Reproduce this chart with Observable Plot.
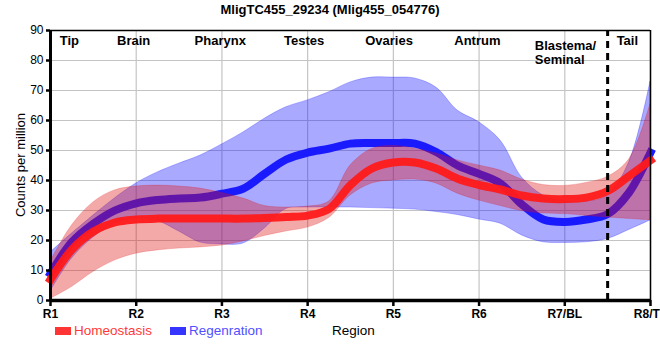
<!DOCTYPE html>
<html>
<head>
<meta charset="utf-8">
<script src="https://cdn.jsdelivr.net/npm/d3@7"></script>
<script src="https://cdn.jsdelivr.net/npm/@observablehq/plot@0.6"></script>
<style>
  html, body { margin: 0; padding: 0; background: #fff; }
  #wrap { position: relative; width: 660px; height: 360px; overflow: hidden; font-family: "Liberation Sans", Arial, sans-serif; }
  #title { position: absolute; left: 0; width: 660px; top: 2px; text-align: center; font-weight: bold; font-size: 13px; color: #000; }
  #ylab { position: absolute; left: 20px; top: 165px; transform: translate(-50%, -50%) rotate(-90deg); white-space: nowrap; font-size: 13px; color: #000; }
  .leg { position: absolute; top: 322px; font-size: 13.5px; line-height: 17px; }
  .sw { position: absolute; width: 16px; height: 8px; }
</style>
</head>
<body>
<div id="wrap">
  <div id="chart"></div>
  <div id="title">MligTC455_29234 (Mlig455_054776)</div>
  <div id="ylab">Counts per million</div>
  <div class="sw" style="left:55px; top:327px; background:#ff3535;"></div>
  <div class="leg" style="left:74px; color:#ff3a3a;">Homeostasis</div>
  <div class="sw" style="left:170px; top:327px; background:#3535ff;"></div>
  <div class="leg" style="left:189px; color:#5050ff;">Regenration</div>
  <div class="leg" style="left:332px; color:#000;">Region</div>
</div>
<script>
// ---- data ----
const xPos = [1, 1.25, 1.5, 1.75, 2, 2.25, 2.5, 2.75, 3, 3.25, 3.5, 3.75, 4, 4.25, 4.5, 4.75, 5, 5.25, 5.5, 5.75, 6, 6.25, 6.5, 6.75, 7, 7.25, 7.5, 7.75, 8];

const homeMean = [7, 17, 23, 26, 27, 27.3, 27.3, 27.3, 27.3, 27.3, 27.5, 27.8, 28.3, 30.5, 38.5, 44, 46, 46, 44, 40.6, 38.5, 37, 35, 34, 33.8, 34.3, 36.5, 41.5, 46.7];
const homeLow  = [0.5, 4.5, 9.5, 13.3, 15.6, 16.7, 17.3, 17.7, 18.3, 19.7, 21.5, 23, 24.3, 27.5, 35, 39, 40, 40.3, 39, 35.6, 33.3, 31.5, 29.8, 29, 28.8, 28.2, 27.7, 27.2, 26.7];
const homeHigh = [13, 25, 32.7, 36.7, 38, 38.3, 38, 37.3, 35.8, 34, 31.5, 31, 31.3, 33, 45, 50.5, 51.5, 50.6, 49, 46.7, 45, 43.3, 40.3, 38.5, 38.2, 39.2, 41.2, 47, 65.6];

const regenMean = [9, 19.5, 25.6, 30, 32.4, 33.5, 34, 34.3, 35.6, 37.3, 42.3, 47, 49.3, 50.6, 52.3, 52.5, 52.5, 52.3, 49.5, 45, 42.2, 39, 32, 27, 26.2, 27, 28.8, 36, 49.3];
const regenLow  = [3, 14, 21, 25.6, 27.3, 26.5, 23, 19.3, 18.7, 19, 24, 30.5, 31, 31, 31, 30.8, 30.6, 30.3, 29.5, 28.5, 27, 25.6, 21.7, 19.4, 19.2, 19.4, 20.5, 23.5, 26.7];
const regenHigh = [16, 22.3, 28.3, 34, 39, 42.7, 45.6, 48.3, 52, 56, 60.6, 64.4, 66.7, 69.4, 72.7, 74.3, 74.3, 74, 71, 63.3, 59.4, 53.3, 41, 35, 33, 33, 35, 46, 73];

const xTicks = [1, 2, 3, 4, 5, 6, 7, 8];
const xTickLabels = ["R1", "R2", "R3", "R4", "R5", "R6", "R7/BL", "R8/TL"];
const yTicks = [0, 10, 20, 30, 40, 50, 60, 70, 80, 90];

const regionNames = ["Tip", "Brain", "Pharynx", "Testes", "Ovaries", "Antrum", "Tail"];
const regionX = [1.22, 1.97, 2.98, 3.96, 4.95, 5.98, 7.73];
const blastemaLabel = ["Blastema/\nSeminal"];
const blastemaX = [6.65];
const boundaryX = [7.5];

// ---- build table ----
const rows = xPos.map((x, i) => ({
  x,
  hm: homeMean[i], hl: homeLow[i], hh: homeHigh[i],
  rm: regenMean[i], rl: regenLow[i], rh: regenHigh[i]
}));
const regions = regionNames.map((n, i) => ({name: n, x: regionX[i]}));
const blastema = blastemaLabel.map((n, i) => ({name: n, x: blastemaX[i]}));

const curve = "catmull-rom";

const chart = Plot.plot({
  width: 660,
  height: 360,
  marginTop: 30,
  marginBottom: 60,
  marginLeft: 50,
  marginRight: 10,
  style: {fontFamily: "'Liberation Sans', Arial, sans-serif", fontSize: "12px", background: "white"},
  x: {domain: [1, 8], axis: null},
  y: {domain: [0, 90], axis: null},
  marks: [
    Plot.gridX(xTicks, {stroke: "#c4c4c4", strokeOpacity: 1, strokeWidth: 1.2}),
    Plot.gridY(yTicks, {stroke: "#c4c4c4", strokeOpacity: 1, strokeWidth: 1.2}),
    // regeneration band + line
    Plot.areaY(rows, {x: "x", y1: "rl", y2: "rh", curve, fill: "#1010ff", fillOpacity: 0.36, stroke: "#1010ff", strokeOpacity: 0.25, strokeWidth: 1}),
    Plot.lineY(rows, {x: "x", y: "rm", curve, stroke: "#1a1aff", strokeWidth: 8, strokeLinecap: "square"}),
    // homeostasis band + line
    Plot.areaY(rows, {x: "x", y1: "hl", y2: "hh", curve, fill: "#e01010", fillOpacity: 0.36, stroke: "#e01010", strokeOpacity: 0.2, strokeWidth: 1}),
    Plot.lineY(rows, {x: "x", y: "hm", curve, stroke: "#ff1a1a", strokeOpacity: 0.95, strokeWidth: 8, strokeLinecap: "square"}),
    // boundary
    Plot.ruleX(boundaryX, {y1: 0, y2: 90, stroke: "#000", strokeWidth: 3, strokeDasharray: "7,5"}),
    // frame
    Plot.ruleY([90], {x1: 1, x2: 8, stroke: "#000", strokeWidth: 1.5}),
    Plot.ruleX([8], {y1: 0, y2: 90, stroke: "#000", strokeWidth: 1.5}),
    Plot.ruleX([1], {y1: 0, y2: 90, stroke: "#000", strokeWidth: 3}),
    Plot.ruleY([0], {x1: 1, x2: 8, stroke: "#000", strokeWidth: 3.5}),
    // axes
    Plot.axisX(xTicks, {
      tickFormat: (d) => xTickLabels[xTicks.indexOf(d)],
      tickSize: 6, tickPadding: 3, strokeWidth: 2.5,
      fontSize: 12, fontWeight: 600, fill: "#000", label: null
    }),
    Plot.axisY(yTicks, {
      tickSize: 4, tickPadding: 3, strokeWidth: 2.5, fontSize: 12, fill: "#000", label: null
    }),
    // region labels
    Plot.text(regions, {x: "x", y: 90, text: "name", dy: 10, fontWeight: "bold", fontSize: 13, fill: "#000"}),
    Plot.text(blastema, {x: "x", y: 90, text: "name", dy: 9, textAnchor: "start", lineAnchor: "top", lineHeight: 1.1, fontWeight: "bold", fontSize: 13, fill: "#000"})
  ]
});
document.getElementById("chart").appendChild(chart);
</script>
</body>
</html>
